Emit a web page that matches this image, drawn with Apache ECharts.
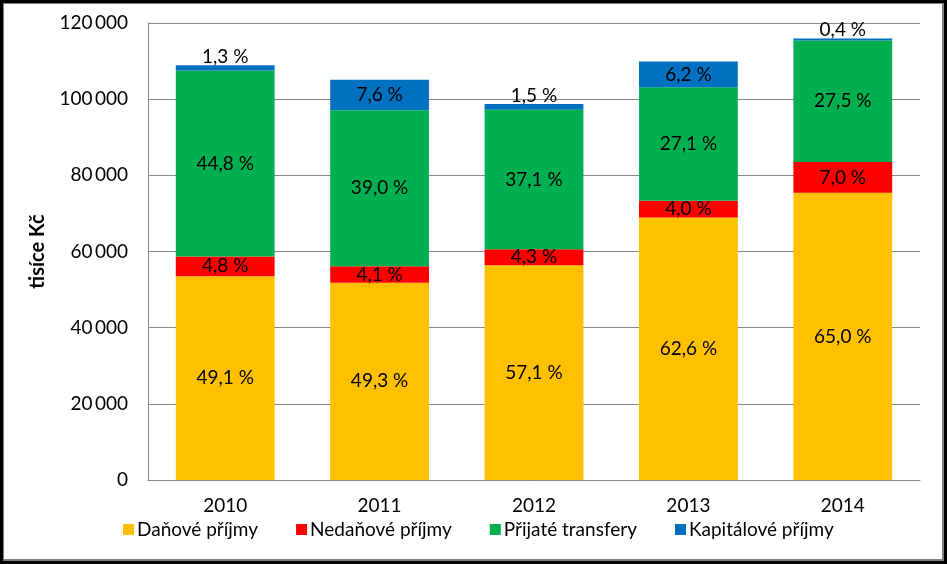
<!DOCTYPE html>
<html>
<head>
<meta charset="utf-8">
<script src="https://cdn.jsdelivr.net/npm/echarts@6/dist/echarts.min.js"></script>
<style>
  html, body { margin: 0; padding: 0; background: #000; }
  #frame { position: absolute; left: 3px; top: 3px; width: 938px; height: 555px; background: #fff; border: 1px solid #7f7f7f; border-right-width: 2px; border-bottom-width: 2px; }
  #chart { position: absolute; left: -4px; top: -4px; width: 947px; height: 564px; }
</style>
</head>
<body>
<div id="frame"><div id="chart"></div></div>
<script>
// Data (thousands CZK)
const years = ['2010', '2011', '2012', '2013', '2014'];
const danove = [53500, 51800, 56400, 68900, 75400];
const nedanove = [5200, 4300, 4200, 4400, 8100];
const transfery = [48800, 41000, 36600, 29800, 31900];
const kapitalove = [1400, 8000, 1500, 6800, 500];
// Percent labels as shown
const pctDanove = ['49,1 %', '49,3 %', '57,1 %', '62,6 %', '65,0 %'];
const pctNedanove = ['4,8 %', '4,1 %', '4,3 %', '4,0 %', '7,0 %'];
const pctTransfery = ['44,8 %', '39,0 %', '37,1 %', '27,1 %', '27,5 %'];
const pctKapitalove = ['1,3 %', '7,6 %', '1,5 %', '6,2 %', '0,4 %'];
const yTicks = { min: 0, max: 120000, interval: 20000 };

const FONT = 'Lato, "Open Sans", sans-serif';
const FS = 19;
const chart = echarts.init(document.getElementById('chart'));

function labeled(values, smallAbove) {
  return values.map((v, i) => {
    const item = { value: v };
    if (smallAbove && smallAbove[i]) {
      item.label = { position: 'top', distance: -1 };
    }
    return item;
  });
}

function series(name, color, values, labels, smallAbove) {
  return {
    name: name,
    type: 'bar',
    stack: 'total',
    barCategoryGap: '36%',
    itemStyle: { color: color },
    label: {
      show: true,
      position: 'inside',
      color: '#000',
      fontFamily: FONT,
      fontSize: FS,
      formatter: p => labels[p.dataIndex]
    },
    data: labeled(values, smallAbove)
  };
}

chart.setOption({
  animation: false,
  textStyle: { fontFamily: FONT },
  grid: { left: 148, right: 27, top: 23, bottom: 84, containLabel: false },
  legend: {
    bottom: 20,
    left: 118,
    itemWidth: 11,
    itemHeight: 11,
    itemGap: 38,
    icon: 'rect',
    textStyle: { fontFamily: FONT, fontSize: FS, color: '#000', padding: [0, 0, 0, -2] },
    data: ['Daňové příjmy', 'Nedaňové příjmy', 'Přijaté transfery', 'Kapitálové příjmy']
  },
  xAxis: {
    type: 'category',
    data: years,
    axisLine: { show: true, lineStyle: { color: '#868686', width: 1 } },
    axisTick: { show: false },
    axisLabel: { color: '#000', fontFamily: FONT, fontSize: FS, margin: 16 }
  },
  yAxis: {
    type: 'value',
    min: yTicks.min,
    max: yTicks.max,
    interval: yTicks.interval,
    name: 'tisíce Kč',
    nameLocation: 'middle',
    nameGap: 100,
    nameRotate: 90,
    nameTextStyle: { color: '#000', fontFamily: FONT, fontSize: 20, fontWeight: 'bold' },
    axisLine: { show: true, lineStyle: { color: '#868686', width: 1 } },
    axisTick: { show: false },
    splitLine: { lineStyle: { color: '#868686', width: 1 } },
    axisLabel: {
      color: '#000', fontFamily: FONT, fontSize: FS, margin: 20,
      formatter: v => String(v).replace(/\B(?=(\d{3})+(?!\d))/g, '\u2009')
    }
  },
  series: [
    series('Daňové příjmy', '#FFC000', danove, pctDanove),
    series('Nedaňové příjmy', '#FF0000', nedanove, pctNedanove),
    series('Přijaté transfery', '#00B050', transfery, pctTransfery),
    series('Kapitálové příjmy', '#0070C0', kapitalove, pctKapitalove, [true, false, true, false, true])
  ]
});
</script>
</body>
</html>
